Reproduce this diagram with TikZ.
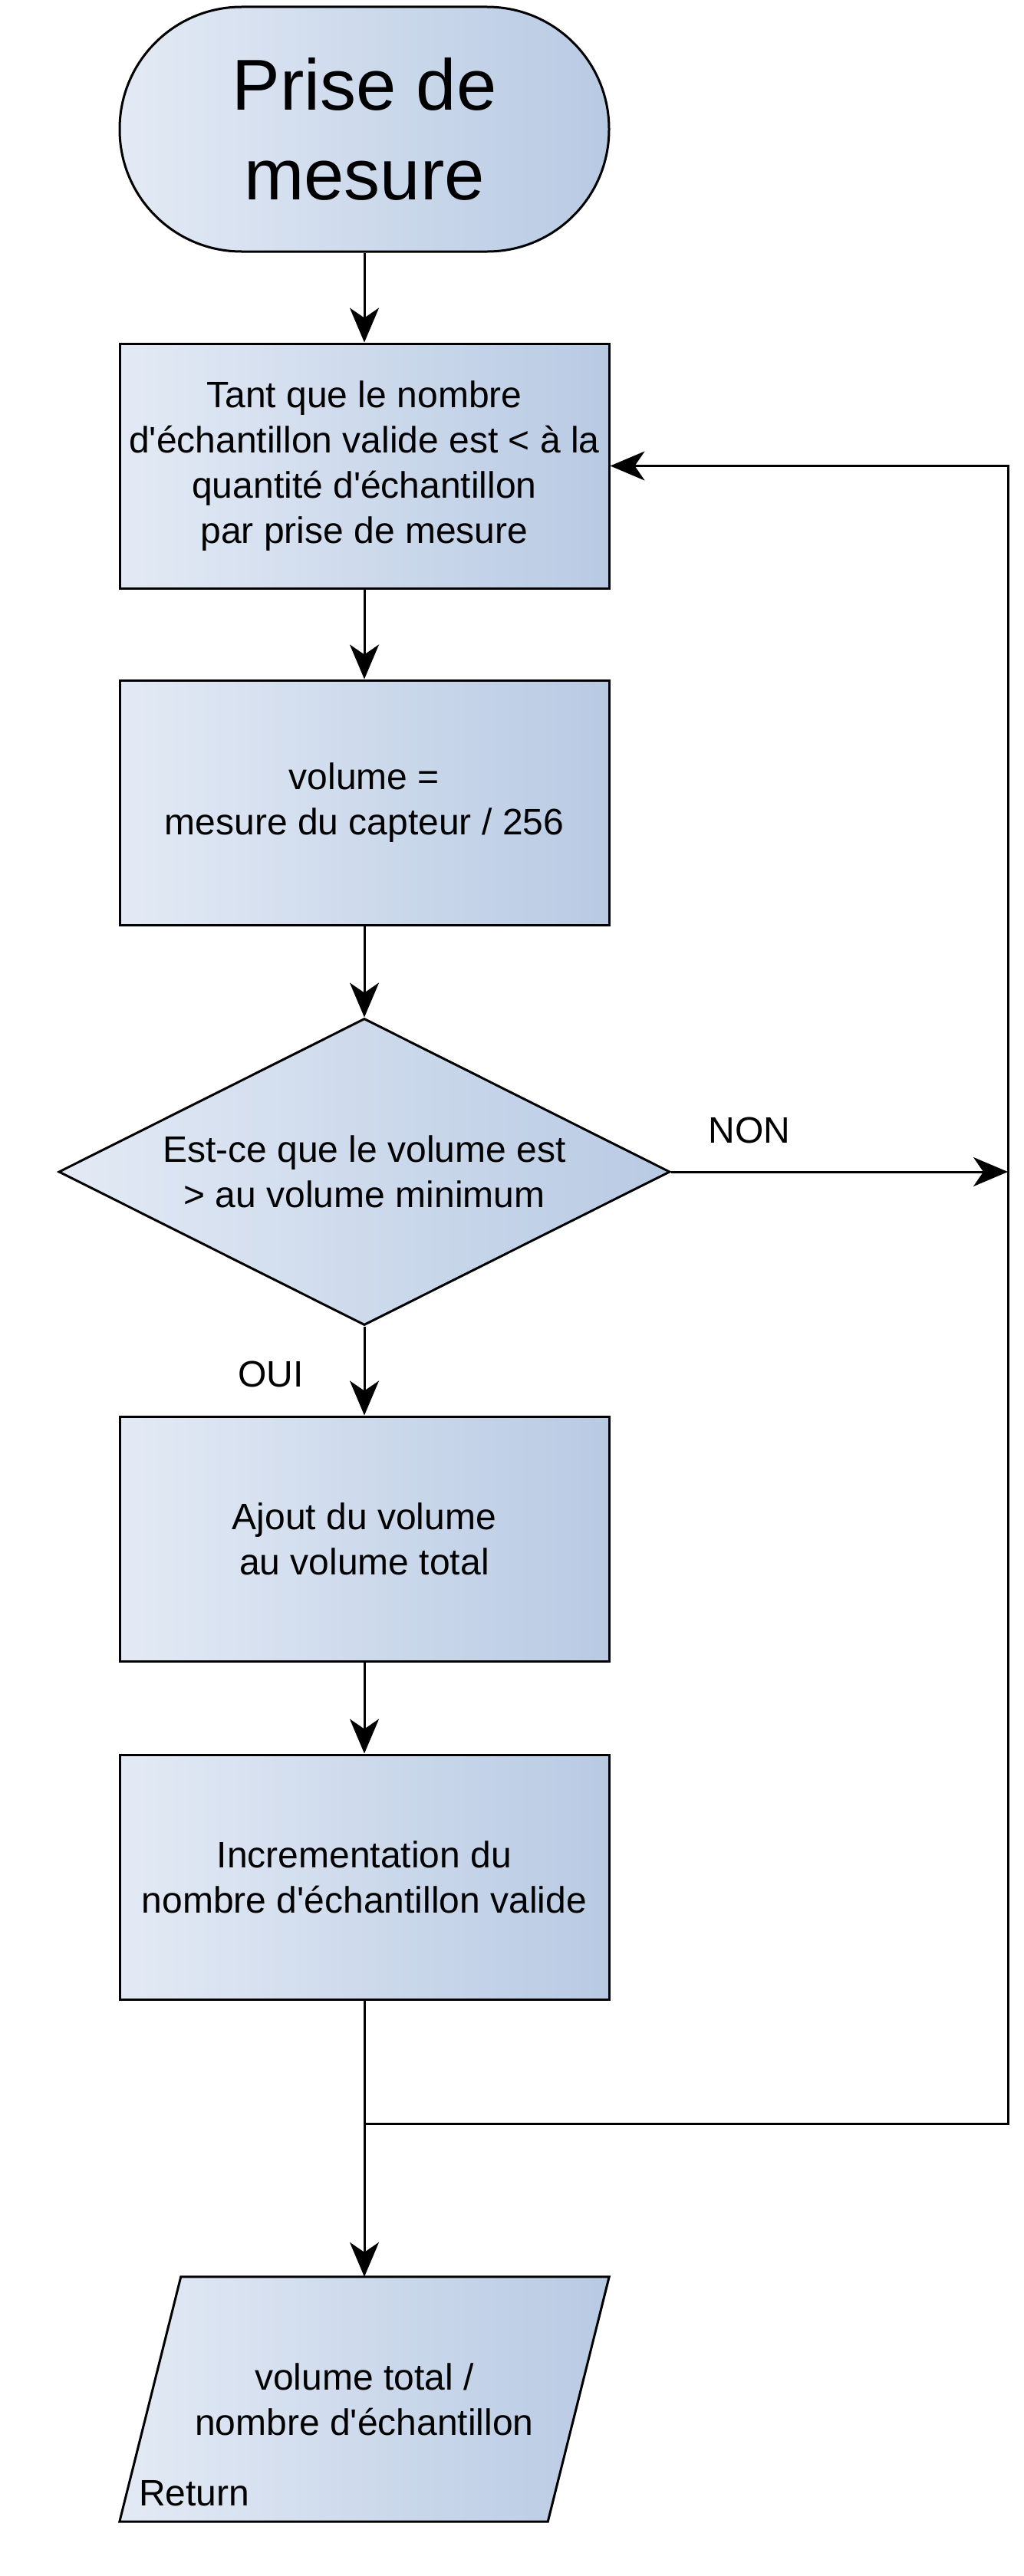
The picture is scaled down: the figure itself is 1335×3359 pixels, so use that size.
\documentclass[tikz,border=0pt]{standalone}
\usepackage{fontspec}
\setmainfont{Liberation Sans}
\usetikzlibrary{arrows.meta,shapes.geometric,calc}
\newcommand{\sq}{\textquotesingle}
\definecolor{gleft}{HTML}{E3EAF5}
\definecolor{gright}{HTML}{B8CAE3}
\tikzset{
  fillgrad/.style={left color=gleft,right color=gright},
  box/.style={draw=black,line width=3pt,fillgrad,minimum width=638pt,minimum height=319pt,inner sep=0pt,align=center,font=\fontsize{48pt}{59pt}\selectfont},
  termbox/.style={box,rounded corners=159pt,font=\fontsize{94pt}{117pt}\selectfont},
  decbox/.style={draw=black,line width=3pt,fillgrad,diamond,aspect=1.99,minimum width=797pt,minimum height=400pt,inner sep=0pt,align=center,font=\fontsize{48pt}{59pt}\selectfont},
  plainbox/.style={minimum width=638pt,minimum height=319pt,inner sep=0pt,align=center,font=\fontsize{48pt}{59pt}\selectfont},
  conn/.style={line width=3pt,draw=black},
  arr/.style={conn,-{Stealth[length=45pt,width=38pt,inset=13pt]}},
  lbl/.style={font=\fontsize{48pt}{59pt}\selectfont,inner sep=0pt,anchor=base}
}
\begin{document}
\begin{tikzpicture}[x=1pt,y=-1pt]
\useasboundingbox (0,0) rectangle (1335,3359);
\node[termbox] (term) at (475,168.5) {Prise de\\mesure};
\node[box] (b1) at (475,607.5) {Tant que le nombre\\d\sq échantillon valide est < à la\\quantité d\sq échantillon\\par prise de mesure};
\node[box] (b2) at (475,1046.5) {volume =\\mesure du capteur / 256};
\node[decbox] (dec) at (475,1528) {Est-ce que le volume est\\> au volume minimum};
\node[box] (b3) at (475,2006.5) {Ajout du volume\\au volume total};
\node[box] (b4) at (475,2447.5) {Incrementation du\\nombre d\sq échantillon valide};
\node[plainbox] (ret) at (475,3128.5) {};
\fill[fillgrad] ($(ret.north west)+(80,0)$) -- (ret.north east) -- ($(ret.south east)+(-80,0)$) -- (ret.south west) -- cycle;
\draw[line width=3pt,line join=miter] ($(ret.north west)+(80,0)$) -- (ret.north east) -- ($(ret.south east)+(-80,0)$) -- (ret.south west) -- cycle;
\node[plainbox] (rettext) at (475,3128.5) {volume total /\\nombre d\sq échantillon};
\node[lbl,anchor=base west] (retlbl) at (181,3267) {Return};
\node[lbl] (non) at (977,1490) {NON};
\node[lbl] (oui) at (353,1808) {OUI};
\coordinate (junc) at (475,2769);
\coordinate (lb) at (1314,2769);
\coordinate (lt) at (1314,607.5);
\coordinate (nonend) at (1314,1528);
\draw[arr] (term) -- (b1);
\draw[arr] (b1) -- (b2);
\draw[arr] (b2) -- (dec);
\draw[arr] (dec) -- (b3);
\draw[arr] (b3) -- (b4);
\draw[arr] (dec.east) -- (nonend);
\draw[conn] (b4.south) -- (junc);
\draw[arr] (junc) -- (ret.north);
\draw[arr,line join=miter] (junc) -- (lb) -- (lt) -- (b1.east);
\end{tikzpicture}
\end{document}
